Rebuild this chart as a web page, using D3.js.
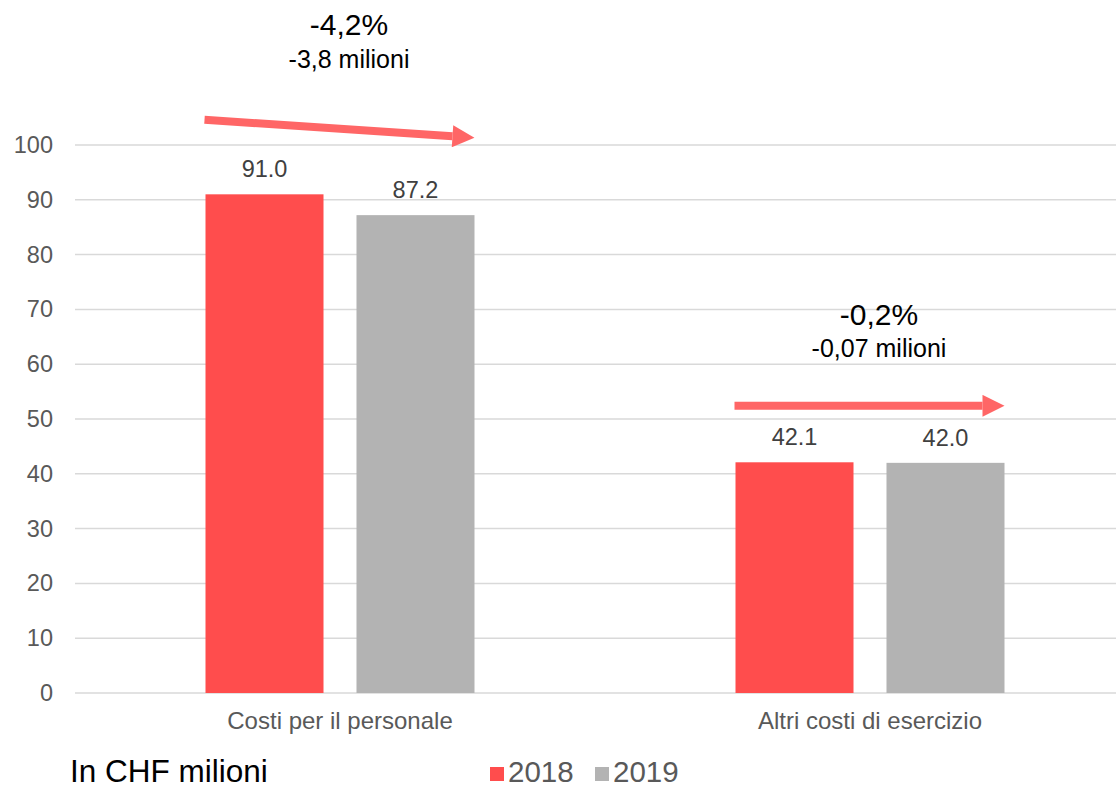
<!DOCTYPE html>
<html>
<head>
<meta charset="utf-8">
<script src="https://cdn.jsdelivr.net/npm/d3@7"></script>
<style>
  body { margin: 0; background: #fff; }
  text { font-family: "Liberation Sans", Arial, sans-serif; }
</style>
</head>
<body>
<div id="chart"></div>
<script>
const categories = ["Costi per il personale", "Altri costi di esercizio"];
const series = ["2018", "2019"];
const values2018 = [91.0, 42.1];
const values2019 = [87.2, 42.0];
const yTicks = [0, 10, 20, 30, 40, 50, 60, 70, 80, 90, 100];
const colors = ["#ff4d4d", "#b3b3b3"];

// change annotations, in data units
const changePct = ["-4,2%", "-0,2%"];
const changeAbs = ["-3,8 milioni", "-0,07 milioni"];
const pctAt = [120.1, 67.2];
const absAt = [114.0, 61.3];
const arrowFrom = [104.6, 52.4];
const arrowTo = [101.6, 52.4];

const width = 1116, height = 789;

const svg = d3.select("#chart").append("svg")
  .attr("width", width)
  .attr("height", height);

const x0 = d3.scaleBand()
  .domain(categories)
  .range([75, 1135]);

const x1 = d3.scaleBand()
  .domain(series)
  .range([130.5, 399.5])
  .paddingInner(0.2185);

const y = d3.scaleLinear()
  .domain([0, 100])
  .range([693, 145]);

// gridlines
svg.append("g")
  .selectAll("line")
  .data(yTicks)
  .enter()
  .append("line")
  .attr("x1", 75)
  .attr("x2", 1135)
  .attr("y1", d => y(d))
  .attr("y2", d => y(d))
  .style("stroke", "#d9d9d9")
  .style("stroke-width", 1.5);

// y axis labels
const yAxis = svg.append("g")
  .attr("transform", "translate(53,0)")
  .call(d3.axisLeft(y).tickValues(yTicks).tickSize(0).tickPadding(0));
yAxis.select(".domain").remove();
yAxis.selectAll("text")
  .style("font-family", "Liberation Sans, Arial, sans-serif")
  .style("font-size", "23.5px")
  .style("fill", "#595959");

// bars
let data = [];
for (let i = 0; i < categories.length; i++) {
  data.push({cat: categories[i], s: series[0], value: values2018[i], c: colors[0]});
  data.push({cat: categories[i], s: series[1], value: values2019[i], c: colors[1]});
}

svg.selectAll("rect.bar")
  .data(data)
  .enter()
  .append("rect")
  .attr("class", "bar")
  .attr("x", d => x0(d.cat) + x1(d.s))
  .attr("y", d => y(d.value))
  .attr("width", x1.bandwidth())
  .attr("height", d => y(0) - y(d.value))
  .style("fill", d => d.c);

svg.selectAll("text.val")
  .data(data)
  .enter()
  .append("text")
  .attr("class", "val")
  .attr("x", d => x0(d.cat) + x1(d.s) + x1.bandwidth() / 2)
  .attr("y", d => y(d.value) - 17)
  .attr("text-anchor", "middle")
  .style("font-size", "23.5px")
  .style("fill", "#404040")
  .text(d => d.value.toFixed(1));

// category labels
const xAxis = svg.append("g")
  .attr("transform", "translate(0," + y(0) + ")")
  .call(d3.axisBottom(x0).tickSize(0).tickPadding(19));
xAxis.select(".domain").remove();
xAxis.selectAll("text")
  .style("font-family", "Liberation Sans, Arial, sans-serif")
  .style("font-size", "24px")
  .style("fill", "#595959");

// arrows + change labels
const defs = svg.append("defs");
defs.append("marker")
  .attr("id", "head")
  .attr("viewBox", "0 0 10 10")
  .attr("refX", 0)
  .attr("refY", 5)
  .attr("markerUnits", "userSpaceOnUse")
  .attr("markerWidth", 24)
  .attr("markerHeight", 22)
  .attr("orient", "auto")
  .append("path")
  .attr("d", "M0,0 L10,5 L0,10 Z")
  .style("fill", "#ff6666");

categories.forEach(function(cat, i) {
  const xs = x0(cat) + x1(series[0]) - 1;
  const xe = x0(cat) + x1(series[1]) + x1.bandwidth() - 22;
  svg.append("line")
    .attr("x1", xs)
    .attr("y1", y(arrowFrom[i]))
    .attr("x2", xe)
    .attr("y2", y(arrowTo[i]))
    .style("stroke", "#ff6666")
    .style("stroke-width", 8)
    .attr("marker-end", "url(#head)");
});

svg.selectAll("text.pct")
  .data(changePct)
  .enter()
  .append("text")
  .attr("class", "pct")
  .attr("x", (d, i) => x0(categories[i]) + x0.bandwidth() / 2 + 9)
  .attr("y", (d, i) => y(pctAt[i]))
  .attr("text-anchor", "middle")
  .style("font-size", "30px")
  .style("fill", "#000")
  .text(d => d);

svg.selectAll("text.abs")
  .data(changeAbs)
  .enter()
  .append("text")
  .attr("class", "abs")
  .attr("x", (d, i) => x0(categories[i]) + x0.bandwidth() / 2 + 9)
  .attr("y", (d, i) => y(absAt[i]))
  .attr("text-anchor", "middle")
  .style("font-size", "25px")
  .style("fill", "#000")
  .text(d => d);

// unit note
svg.append("text")
  .attr("x", 70)
  .attr("y", 782)
  .style("font-size", "31.5px")
  .style("fill", "#000")
  .text("In CHF milioni");

// legend
const legend = svg.append("g")
  .selectAll("g")
  .data(series)
  .enter()
  .append("g")
  .attr("transform", (d, i) => "translate(" + (490 + i * 105) + ",0)");

legend.append("rect")
  .attr("x", 0)
  .attr("y", 767)
  .attr("width", 14)
  .attr("height", 14)
  .style("fill", (d, i) => colors[i]);

legend.append("text")
  .attr("x", 18)
  .attr("y", 782)
  .style("font-size", "29.5px")
  .style("fill", "#595959")
  .text(d => d);
</script>
</body>
</html>
